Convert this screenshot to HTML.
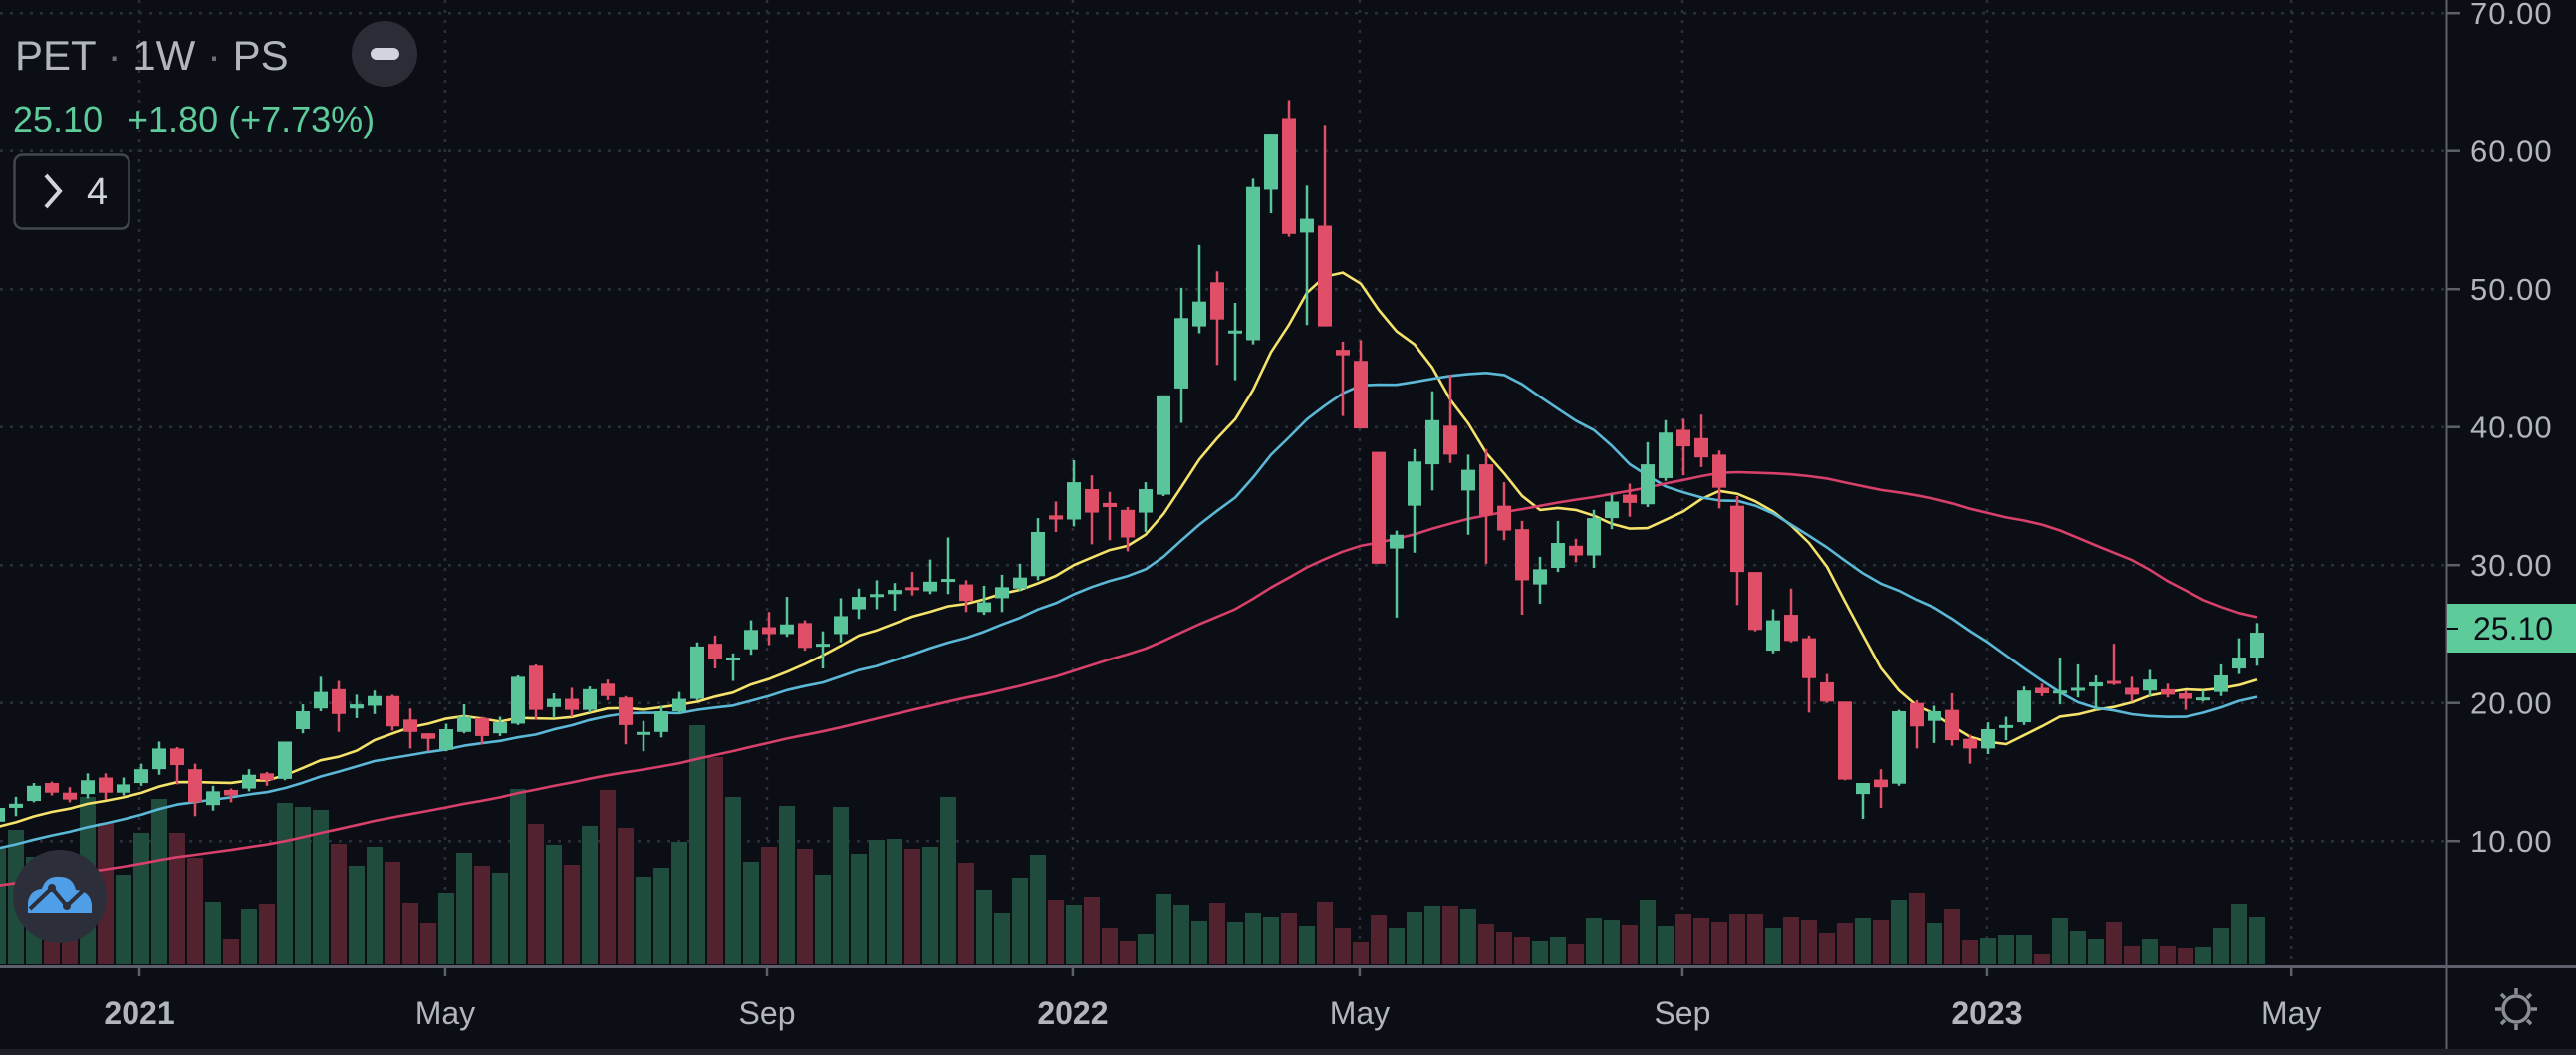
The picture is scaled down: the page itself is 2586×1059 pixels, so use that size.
<!DOCTYPE html>
<html><head><meta charset="utf-8"><style>
html,body{margin:0;padding:0;background:#0b0e15;width:2586px;height:1059px;overflow:hidden;font-family:"Liberation Sans",sans-serif}
svg{display:block}
</style></head><body>
<svg id="chart" width="2586" height="1059" xmlns="http://www.w3.org/2000/svg">
<rect x="0" y="0" width="2586" height="1059" fill="#0b0e15"/>
<g id="grid"></g>
<g id="vol"></g>
<g id="ma"></g>
<g id="candles"></g>
<rect x="0" y="1053" width="2586" height="6" fill="#1e2027"/>
<line x1="0" y1="970.5" x2="2586" y2="970.5" stroke="#5d606b" stroke-width="3"/>
<line x1="2456" y1="0" x2="2456" y2="1053" stroke="#5d606b" stroke-width="3"/>
<g id="yaxis"></g>
<g id="xaxis"></g>
<g>
<rect x="2457" y="606" width="129" height="49" fill="#5ecb9b"/>
<line x1="2457" y1="631" x2="2468" y2="631" stroke="#0b0e15" stroke-width="2"/>
<text x="2483" y="642" font-size="32" fill="#0b0e15">25.10</text>
</g>
<g stroke="#8a8d96" stroke-width="3.5" fill="none">
<circle cx="2526" cy="1013" r="13"/>
<line x1="2526" y1="992" x2="2526" y2="998"/><line x1="2526" y1="1028" x2="2526" y2="1034"/>
<line x1="2505" y1="1013" x2="2511" y2="1013"/><line x1="2541" y1="1013" x2="2547" y2="1013"/>
<line x1="2511" y1="998" x2="2515" y2="1002"/><line x1="2537" y1="1024" x2="2541" y2="1028"/>
<line x1="2541" y1="998" x2="2537" y2="1002"/><line x1="2511" y1="1028" x2="2515" y2="1024"/>
</g>
<text x="15" y="70" font-size="42" fill="#b2b5be">PET <tspan fill="#6a6d78">·</tspan> 1W <tspan fill="#6a6d78">·</tspan> PS</text>
<g>
<circle cx="386" cy="54" r="33" fill="#2a2d36"/>
<rect x="372" y="48" width="29" height="12" rx="6" fill="#d1d4dc"/>
</g>
<text x="13" y="132" font-size="36" fill="#5ecb9b">25.10<tspan x="128">+1.80 (+7.73%)</tspan></text>
<g>
<rect x="14.5" y="155.5" width="115" height="74" rx="8" fill="none" stroke="#434651" stroke-width="2.5"/>
<polyline points="46,176 60,192 46,208" fill="none" stroke="#d1d4dc" stroke-width="4"/>
<text x="87" y="205" font-size="38" fill="#d1d4dc">4</text>
</g>
<g>
<circle cx="60" cy="900" r="47" fill="#2c2f3a"/>
<path d="M28 916 L28 905 Q30 893 42 892 Q46 879 60 880 Q73 880 76 893 Q90 894 92 907 L92 916 Z" fill="#4f9ee8"/>
<polyline points="30,912 52,891 67,909 86,891" fill="none" stroke="#2c2f3a" stroke-width="4"/>
<circle cx="52" cy="891" r="4" fill="#2c2f3a"/><circle cx="67" cy="909" r="4" fill="#2c2f3a"/>
</g>
</svg>
<script>
const priorCloses=[3.5,3.6,3.8,3.7,3.9,4.0,4.2,4.1,4.3,4.5,4.4,4.6,4.8,4.7,4.9,5.0,5.2,5.1,5.3,5.5,5.4,5.6,5.8,5.7,5.9,6.0,6.2,6.3,6.5,6.8,7.0,7.2,7.4,7.6,7.8,8.0,8.2,8.4,8.6,9.0,9.4,9.8,10.2,10.6,11.0,11.3,11.6,11.9,12.1];
const opens=[11.4,12.4,12.9,14.2,13.5,13.4,14.6,13.5,14.2,15.2,16.7,15.2,12.6,13.7,13.8,14.9,14.5,18.1,19.6,21.0,19.6,19.8,20.5,18.8,17.8,16.6,17.9,18.9,17.8,18.5,22.7,19.7,20.3,19.5,21.4,20.4,17.7,17.9,19.4,20.3,24.3,23.1,23.9,25.5,25.0,25.8,24.2,25.0,26.8,27.7,27.9,28.4,28.1,28.8,28.6,26.6,27.6,28.3,29.2,33.6,33.3,35.5,34.5,34.0,33.8,35.1,42.8,47.3,50.5,46.8,46.3,57.2,62.4,54.1,54.6,45.6,44.8,38.2,31.2,34.3,37.3,40.1,35.4,37.3,34.3,32.6,28.6,29.8,31.4,30.7,33.4,35.1,34.4,36.3,39.8,39.2,38.0,34.3,29.5,23.8,26.4,24.7,21.5,20.1,13.4,14.45,14.15,20.0,18.7,19.5,17.4,16.7,18.2,18.6,21.1,20.8,21.0,21.2,21.6,21.1,20.9,21.0,20.7,20.2,20.8,22.5,23.3];
const highs=[12.8,13.2,14.2,14.3,13.9,14.9,14.9,14.6,15.6,17.2,16.8,15.6,14.0,13.8,15.2,15.0,17.2,19.9,21.9,21.6,20.6,20.9,20.6,19.6,17.8,18.5,19.9,19.0,19.0,22.0,22.8,20.7,21.1,21.2,21.7,20.5,18.7,19.8,20.8,24.4,24.9,23.6,26.0,26.6,27.7,26.0,25.2,27.6,28.3,28.9,28.7,29.5,30.4,32.0,28.9,28.5,29.3,30.1,33.4,34.6,37.6,36.5,35.3,34.2,36.0,42.3,50.1,53.2,51.3,49.0,58.0,61.2,63.7,57.5,61.9,46.2,46.3,38.2,32.5,38.4,42.6,43.8,38.0,38.4,36.0,33.2,30.6,33.2,31.9,34.0,35.1,35.9,38.9,40.5,40.6,40.9,38.3,35.0,29.5,26.8,28.3,24.9,22.1,20.1,14.2,15.2,19.5,20.2,19.8,20.7,17.7,18.6,19.0,21.2,21.4,23.3,22.8,22.0,24.3,21.9,22.4,21.4,20.9,20.9,22.8,24.7,25.8];
const lows=[11.0,11.8,12.8,13.3,12.8,13.1,13.0,13.3,14.0,14.8,14.1,11.8,12.2,12.8,13.6,14.0,14.4,17.8,19.4,17.9,18.9,19.2,18.0,16.7,16.5,16.5,17.8,17.0,17.6,18.4,18.8,18.9,19.0,19.3,20.2,17.0,16.5,17.5,19.2,20.2,22.5,21.6,23.5,24.2,24.8,23.8,22.5,24.4,26.1,26.8,26.7,27.8,27.9,27.9,26.6,26.4,26.6,28.1,28.9,32.4,32.8,31.5,31.8,31.0,32.4,35.0,40.3,46.8,44.5,43.4,46.0,55.5,53.8,47.4,47.3,40.8,39.9,30.1,26.2,30.9,35.4,37.4,32.2,30.1,31.8,26.4,27.2,29.5,30.2,29.8,32.6,33.5,34.2,36.1,36.5,37.1,34.1,27.1,25.2,23.6,24.4,19.3,20.0,14.4,11.6,12.4,14.0,16.7,17.1,16.9,15.6,16.3,17.3,18.4,20.5,19.9,20.4,19.5,21.3,20.1,20.5,20.4,19.5,20.1,20.5,22.1,22.7];
const closes=[12.4,12.7,14.0,13.5,13.0,14.4,13.5,14.1,15.2,16.7,15.5,12.8,13.6,13.3,14.8,14.4,17.2,19.4,20.8,19.2,19.9,20.5,18.3,17.9,17.4,18.1,19.0,17.6,18.6,21.9,19.5,20.3,19.5,21.0,20.5,18.4,17.9,19.4,20.3,24.1,23.2,23.3,25.3,25.0,25.7,24.0,24.3,26.3,27.7,27.9,28.2,28.3,28.8,29.0,27.4,27.3,28.4,29.1,32.4,33.3,36.0,33.8,34.2,32.0,35.5,42.3,47.9,49.1,47.8,47.0,57.4,61.2,54.0,55.1,47.3,45.2,39.9,30.1,32.2,37.5,40.5,38.0,36.9,33.6,32.5,28.9,29.7,31.6,30.7,33.4,34.6,34.5,37.3,39.6,38.6,37.8,35.6,29.5,25.3,26.0,24.5,21.8,20.1,14.45,14.2,13.9,19.4,18.3,19.4,17.3,16.7,18.1,18.4,20.9,20.7,20.9,21.1,21.5,21.5,20.6,21.7,20.6,20.3,20.4,22.0,23.3,25.1];
const volumes=[118,135,108,102,85,168,142,90,132,166,132,107,63,25,56,61,162,158,155,121,99,118,103,62,42,72,112,99,92,176,141,120,100,139,175,137,88,97,123,240,208,168,103,118,159,116,90,158,111,125,126,116,118,168,102,75,52,87,110,65,60,68,36,23,30,71,60,44,62,43,52,48,52,38,63,36,22,50,36,53,59,59,56,40,32,27,23,27,20,47,45,39,65,38,51,47,43,51,51,36,48,45,31,42,47,45,65,72,41,56,24,26,29,29,10,47,33,25,43,18,25,18,16,17,36,61,48];
const priceTicks=[10,20,30,40,50,60,70];
const priceTickLabels=["10.00","20.00","30.00","40.00","50.00","60.00","70.00"];
const timeTickIndex=[7.89,24.94,42.89,59.94,75.94,93.94,110.94,127.9];
const timeTickLabels=["2021","May","Sep","2022","May","Sep","2023","May"];
const timeTickBold=[true,false,false,true,false,false,true,false];
const maLengths=[10,20,50];
const maColors=["#f5e26a","#5bb8d6","#d6406a"];

const NS="http://www.w3.org/2000/svg";
const xOf=i=>-2+18*i;
const yOf=p=>151.7+(60-p)*13.85;
const VOL_BASE=968, volScale=1.0;
const vY=v=>VOL_BASE-v*volScale;
function mk(tag,attrs,parent){const e=document.createElementNS(NS,tag);for(const k in attrs)e.setAttribute(k,attrs[k]);parent.appendChild(e);return e;}

const grid=document.getElementById('grid');
priceTicks.forEach(p=>{
  const l=mk('line',{x1:0,y1:yOf(p),x2:2456,y2:yOf(p),stroke:'#2b2f3a','stroke-width':2.5,'stroke-dasharray':'3 7'},grid);
  
  
});
timeTickIndex.forEach(t=>{
  const l=mk('line',{x1:xOf(t),y1:0,x2:xOf(t),y2:968,stroke:'#2b2f3a','stroke-width':2.5,'stroke-dasharray':'3 7'},grid);
  
  
});

const vol=document.getElementById('vol');
volumes.forEach((v,i)=>{
  const up=closes[i]>=opens[i];
  const r=mk('rect',{x:xOf(i)-8,y:vY(v),width:16,height:VOL_BASE-vY(v),fill:up?'#1f4c3d':'#52222f'},vol);
  
  
});

const all=priorCloses.concat(closes), off=priorCloses.length;
const maG=document.getElementById('ma');
maLengths.forEach((len,k)=>{
  const pts=[];
  for(let i=0;i<closes.length;i++){
    let s=0,n=0;for(let j=off+i-len+1;j<=off+i;j++){if(j>=0){s+=all[j];n++;}}
    pts.push(xOf(i).toFixed(1)+','+yOf(s/n).toFixed(1));
  }
  const pl=mk('polyline',{points:pts.join(' '),fill:'none',stroke:maColors[k],'stroke-width':2.6,'stroke-linejoin':'round'},maG);
  
  
});

const cg=document.getElementById('candles');
closes.forEach((c,i)=>{
  const o=opens[i],up=c>=o,col=up?'#5ac59b':'#e04f67';
  const g=mk('g',{},cg);
  
  
  mk('line',{x1:xOf(i),y1:yOf(highs[i]),x2:xOf(i),y2:yOf(lows[i]),stroke:col,'stroke-width':2.5},g);
  const top=yOf(Math.max(o,c)),bot=yOf(Math.min(o,c));
  mk('rect',{x:xOf(i)-7,y:top,width:14,height:Math.max(3,bot-top),fill:col},g);
});

const ya=document.getElementById('yaxis');
priceTicks.forEach((p,k)=>{
  mk('line',{x1:2457,y1:yOf(p),x2:2470,y2:yOf(p),stroke:'#5d606b','stroke-width':2.5},ya);
  const t=mk('text',{x:2480,y:yOf(p)+11,'font-size':31,fill:'#b2b5be','letter-spacing':'1'},ya);
  t.textContent=priceTickLabels[k];
  
  
});
const xa=document.getElementById('xaxis');
timeTickIndex.forEach((ti,k)=>{
  mk('line',{x1:xOf(ti),y1:972,x2:xOf(ti),y2:980,stroke:'#5d606b','stroke-width':2.5},xa);
  const t=mk('text',{x:xOf(ti),y:1028,'font-size':32,fill:'#b2b5be','text-anchor':'middle','font-weight':timeTickBold[k]?'bold':'normal'},xa);
  t.textContent=timeTickLabels[k];
  
  
});
</script>
</body></html>
